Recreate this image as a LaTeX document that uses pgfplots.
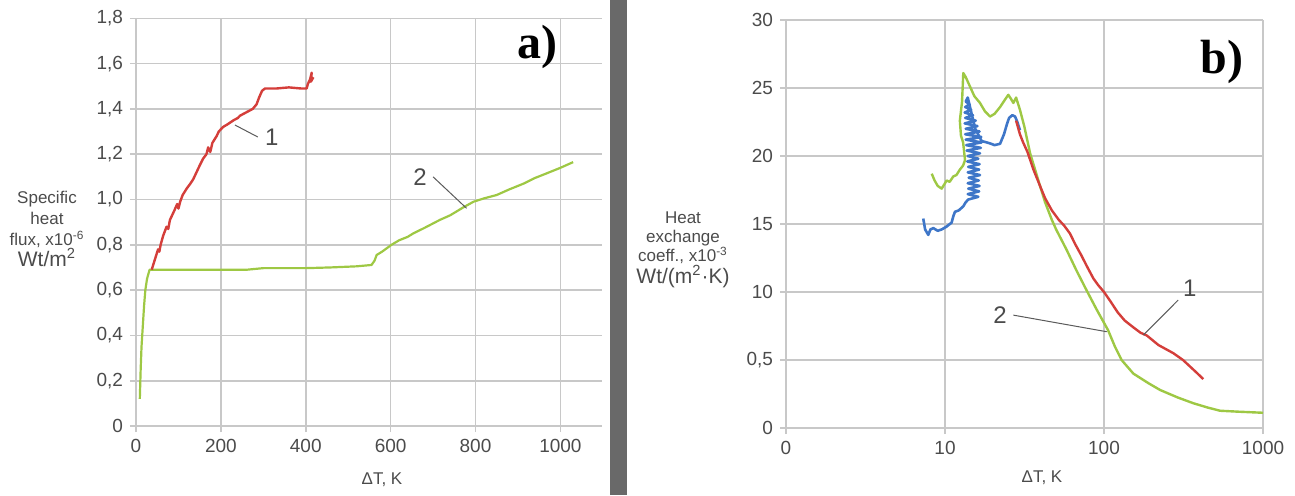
\documentclass[border=0pt]{standalone}
\usepackage{fontspec}
\setmainfont{Liberation Sans}
\newfontfamily\serifb{Liberation Serif}
\usepackage{pgfplots}
\pgfplotsset{compat=1.18}
\definecolor{gridc}{RGB}{200,200,200}
\definecolor{txt}{RGB}{75,75,75}
\definecolor{redc}{RGB}{212,62,58}
\definecolor{greenc}{RGB}{158,200,68}
\definecolor{bluec}{RGB}{62,118,200}
\definecolor{sepc}{RGB}{105,105,105}
\definecolor{leadc}{RGB}{90,90,90}
\pgfplotsset{common/.style={scale only axis, axis line style={draw=none}, grid=major,
  grid style={gridc, line width=0.8pt}, tick style={gridc, line width=0.8pt},
  tick align=outside, major tick length=3pt, tick pos=left,
  ticklabel style={font=\fontsize{9.5}{11}\selectfont, text=txt},
  /pgf/number format/assume math mode=true, /pgf/number format/1000 sep={}, clip=false}}
\begin{document}
\begin{tikzpicture}[line join=round, line cap=round]
\path[use as bounding box] (0,0) rectangle (647.5pt,247.5pt);
\fill[sepc] (305pt,0) rectangle (313.5pt,247.5pt);
% ---------------- a)
\begin{axis}[common, at={(68pt,34.5pt)}, anchor=south west, width=233pt, height=203.85pt,
  xmin=0, xmax=1098, ymin=0, ymax=1.8,
  xtick={0,200,400,600,800,1000}, xticklabels={0,200,400,600,800,1000},
  ytick={0,0.2,0.4,0.6,0.8,1.0,1.2,1.4,1.6,1.8},
  yticklabels={0,{0,2},{0,4},{0,6},{0,8},{1,0},{1,2},{1,4},{1,6},{1,8}}]
\addplot[greenc, line width=1.1pt, line join=round] coordinates {
(9,0.12) (11,0.25) (13,0.35) (16,0.44) (19,0.53) (22,0.60) (26,0.65) (32,0.69) (41,0.69)
(150,0.69) (261,0.69) (300,0.697) (400,0.697) (457,0.70) (520,0.705) (555,0.711)
(562,0.73) (567,0.755) (580,0.77) (602,0.80) (620,0.82) (640,0.835) (653,0.85) (680,0.875)
(716,0.91) (740,0.93) (771,0.965) (795,0.99) (820,1.005) (850,1.02) (880,1.045)
(913,1.07) (940,1.095) (967,1.115) (1000,1.14) (1030,1.165)};
\addplot[redc, line width=1.2pt, line join=round] coordinates {
(37,0.69) (42,0.72) (47,0.75) (52,0.78) (55,0.77) (58,0.80) (64,0.84) (72,0.88) (76,0.87)
(80,0.91) (90,0.95) (97,0.98) (100,0.96) (104,0.99) (110,1.02) (120,1.05) (128,1.07)
(135,1.09) (140,1.11) (150,1.15) (158,1.18) (166,1.20) (170,1.23) (175,1.21) (180,1.25)
(190,1.28) (195,1.30) (205,1.32) (214,1.33) (222,1.34) (230,1.35) (240,1.36) (245,1.37)
(255,1.38) (265,1.39) (275,1.40) (284,1.42) (290,1.45) (297,1.48) (304,1.49) (330,1.49)
(360,1.495) (390,1.49) (402,1.49) (405,1.51) (410,1.53) (414,1.56) (412,1.52) (418,1.54)};
\draw[leadc, line width=0.5pt] (axis cs:287,1.276) -- (axis cs:233,1.329);
\node[text=txt, font=\fontsize{12}{14}\selectfont] at (axis cs:320,1.277) {1};
\draw[leadc, line width=0.5pt] (axis cs:700,1.10) -- (axis cs:779,0.961);
\node[text=txt, font=\fontsize{12}{14}\selectfont] at (axis cs:669,1.10) {2};
\node[font=\serifb\bfseries\fontsize{24}{26}\selectfont] at (axis cs:947,1.673) {a)};
\end{axis}
% ---------------- b)
\begin{axis}[common, xmode=log, xminorticks=false, at={(393pt,33.5pt)}, anchor=south west,
  width=238.5pt, height=204pt,
  xmin=1, xmax=1000, ymin=0, ymax=30,
  xtick={1,10,100,1000}, xticklabels={0,10,100,1000},
  ytick={0,5,10,15,20,25,30}, yticklabels={0,{0,5},10,15,20,25,30}]
\addplot[greenc, line width=1.2pt, line join=round] coordinates {
(8.25,18.7) (8.6,18.2) (9.0,17.8) (9.53,17.6) (10.24,18.2) (10.7,18.1) (11.28,18.5)
(11.8,18.6) (12.4,19.0) (13.0,19.3) (13.36,19.7) (13.0,21.0) (12.6,21.5) (12.4,22.6)
(12.8,24.0) (13.03,26.1) (13.5,25.8) (14.37,25.1) (15.3,24.4) (16.6,23.9) (17.8,23.3)
(19.2,22.9) (20.5,23.1) (22.2,23.6) (23.7,24.1) (25.0,24.5) (26.0,24.2) (26.9,23.9)
(28.0,24.3) (29.6,23.4) (31.5,22.2) (34.3,20.2) (39.6,17.8) (42.6,16.6) (47,15.3)
(50,14.6) (58.2,13.1) (67,11.6) (77.9,10.1) (90,8.7) (106,7.2) (117,6.0) (129,5.0) (153,4.0)
(190,3.3) (225,2.8) (290,2.25) (365,1.82) (450,1.5) (537,1.27) (700,1.2) (1000,1.12)};
\addplot[bluec, line width=1.3pt, line join=round] coordinates {
(7.3,15.4) (7.5,14.6) (7.85,14.2) (8.1,14.6) (8.44,14.7) (9.0,14.5) (9.53,14.6) (10.2,14.8)
(11.0,15.1) (11.3,15.6) (11.56,15.9) (12.2,16.0) (13.03,16.3) (13.5,16.6)
(14.0,16.8) (16.2,17.0) (13.9,17.2) (16.4,17.4) (14.0,17.6) (16.5,17.8) (13.9,18.0)
(16.3,18.2) (14.1,18.4) (16.6,18.6) (13.9,18.8) (16.4,19.0) (14.0,19.2) (16.5,19.4)
(13.8,19.6) (16.2,19.8) (13.9,20.0) (16.6,20.2) (13.7,20.4) (16.8,20.6) (13.6,20.8)
(17.0,21.0) (13.5,21.2) (16.9,21.4) (13.4,21.6) (16.5,21.8) (13.5,22.0) (16.0,22.2)
(13.3,22.4) (15.6,22.6) (13.4,22.8) (15.0,23.0) (13.3,23.2) (14.6,23.4) (13.4,23.6)
(14.3,23.8) (13.5,24.0) (13.9,24.3) (15.5,22.0) (17.0,21.1) (18.3,21.0) (19.5,20.9)
(20.5,20.8) (22.2,20.9) (23.5,21.6) (24.6,22.4) (25.3,22.8) (26.5,23.0)
(27.6,22.9) (28.5,22.5) (29.6,21.9)};
\addplot[redc, line width=1.2pt, line join=round] coordinates {
(28,22.6) (29.6,21.6) (31,21.0) (33,20.3) (36,19.0) (39.6,17.8) (42.6,16.9) (47,16.0)
(52,15.3) (56,14.9) (61.1,14.3) (66,13.5) (72,12.7) (78,11.9) (85.7,11.0) (92,10.5)
(100,10.0) (110,9.3) (122,8.5) (135,7.9) (153,7.4) (170,7.0) (186,6.8) (220,6.1)
(273,5.5) (314,5.0) (380,4.1) (421,3.6)};
\draw[leadc, line width=0.5pt] (axis cs:26.9,8.3) -- (axis cs:104,7.08);
\node[text=txt, font=\fontsize{12}{14}\selectfont] at (axis cs:22.2,8.3) {2};
\draw[leadc, line width=0.5pt] (axis cs:293,9.41) -- (axis cs:177,6.84);
\node[text=txt, font=\fontsize{12}{14}\selectfont] at (axis cs:347,10.27) {1};
\node[font=\serifb\bfseries\fontsize{24}{26}\selectfont] at (axis cs:552,26.9) {b)};
\end{axis}
% labels
\node[text=txt, font=\fontsize{8.5}{10}\selectfont] at (191pt,7.5pt) {ΔT, K};
\node[text=txt, font=\fontsize{8.5}{10}\selectfont] at (521pt,8.5pt) {ΔT, K};
\node[text=txt, align=center, font=\fontsize{8.5}{10.5}\selectfont] at (23.5pt,133pt)
  {Specific\\heat\\flux, x10\textsuperscript{-6}\\{\fontsize{10.5}{10.5}\selectfont Wt/m\textsuperscript{2}}};
\node[text=txt, align=center, font=\fontsize{8.5}{9.5}\selectfont] at (341.5pt,122.5pt)
  {Heat\\exchange\\coeff., x10\textsuperscript{-3}\\{\fontsize{10.5}{10.5}\selectfont Wt/(m\textsuperscript{2}·K)}};
\end{tikzpicture}
\end{document}
